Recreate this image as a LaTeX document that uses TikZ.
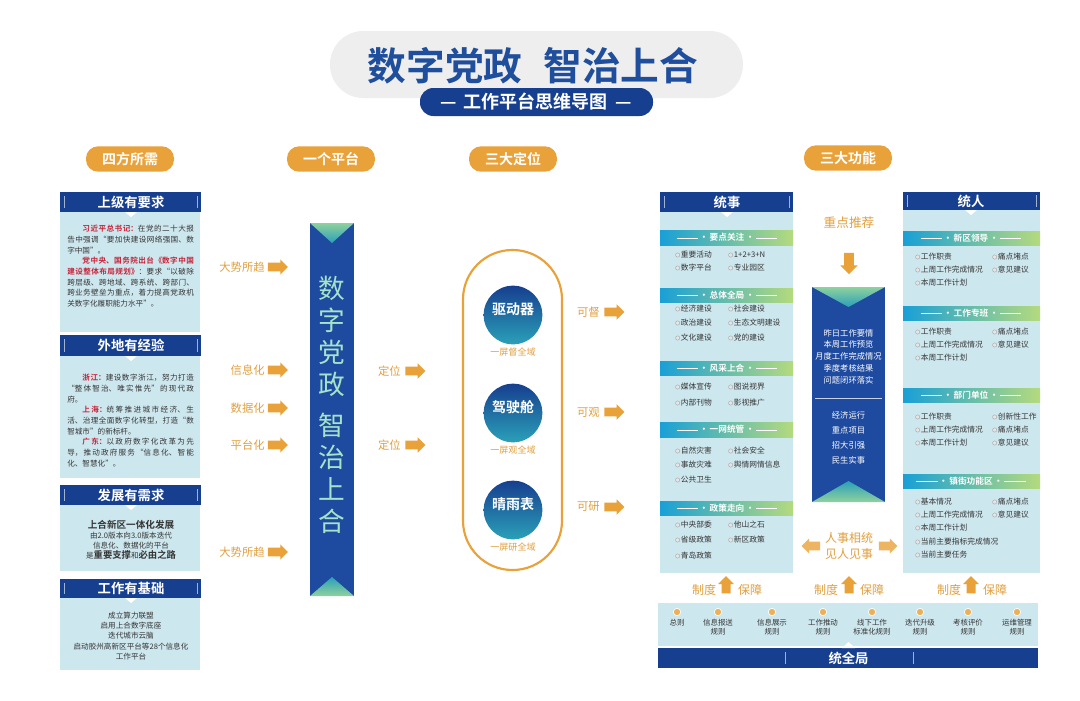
\documentclass[tikz,border=0pt]{standalone}
\usepackage{fontspec}
\setmainfont{Noto Sans CJK SC}[BoldFont={Noto Sans CJK SC Bold}]
\XeTeXlinebreaklocale "zh"
\XeTeXlinebreakskip = 0pt plus 1pt
\usepackage{tikz}
\usetikzlibrary{shapes.arrows}
\usetikzlibrary{positioning}

\definecolor{navy}{HTML}{173F8F}
\definecolor{titleblue}{HTML}{1F4E9C}
\definecolor{orng}{HTML}{E9A23A}
\definecolor{orngtxt}{HTML}{E0A040}
\definecolor{paleblue}{HTML}{CDE7EE}
\definecolor{bandblue}{HTML}{19A0D6}
\definecolor{bandgreen}{HTML}{B5DA7E}
\definecolor{barblue}{HTML}{1E4AA0}
\definecolor{bartext}{HTML}{A6E3C9}
\definecolor{redtxt}{HTML}{C7243A}
\definecolor{txt}{HTML}{353535}
\definecolor{titlegray}{HTML}{EEEEEF}
\definecolor{vgreen}{HTML}{8FD19E}
\definecolor{vteal}{HTML}{2AA0B8}

\newcommand\fsz[2]{\fontsize{#1}{#2}\selectfont}
\newcommand\bandlbl[1]{\rule[1.8pt]{16pt}{0.35pt}\,·\,#1\,·\,\rule[1.8pt]{16pt}{0.35pt}}

\begin{document}
\begin{tikzpicture}[x=0.75pt,y=-0.75pt,line width=0.4pt,
    pill/.style={fill=orng,rounded corners=9pt,text=white,font=\bfseries\fsz{10.5}{12},minimum height=19pt,minimum width=66pt,inner sep=0pt},
    hdtxt/.style={text=white,font=\bfseries\fsz{10}{12},inner sep=0pt},
    bandtxt/.style={text=white,font=\bfseries\fsz{6.5}{8},inner sep=0pt},
    para/.style={text=txt,font=\fsz{5.7}{8},text width=95pt,align=justify,inner sep=0pt,anchor=north west},
    cpara/.style={text=txt,font=\fsz{5.7}{7.6},align=center,inner sep=0pt,anchor=north},
    itm/.style={anchor=west,text=txt,font=\fsz{5.8}{7},inner sep=0.5pt,label distance=1.5pt,label={[dotsty]left:{}}},
    dotsty/.style={circle,draw=gray!70,fill=gray!20,line width=0.3pt,inner sep=0pt,minimum size=3.2pt},
    lbl/.style={text=orngtxt,font=\fsz{8.5}{10},inner sep=0pt},
    fatarrow/.style={single arrow,fill=orng,inner sep=3pt,minimum height=15pt,minimum width=11pt,single arrow head extend=2.5pt,single arrow head indent=0pt},
    tick/.style={white!60!navy,line width=0.7pt},
    whtxt/.style={text=white,inner sep=0pt,align=center},
    disc/.style={circle,minimum size=44pt,inner sep=0pt,top color=navy,middle color=barblue,bottom color=vteal},
    rdot/.style={circle,fill=orng!85,draw=white,line width=0.5pt,minimum size=5.5pt,inner sep=0pt},
    rule/.style={text=txt,font=\fsz{5.6}{7},align=center,inner sep=0pt,anchor=north}]

    \useasboundingbox[fill=white] (0,0) rectangle (1080,700);

    % title
    \fill[titlegray,rounded corners=25pt] (330,31) rectangle (743,98);
    \node[text=titleblue,font=\bfseries\fsz{29}{32},inner sep=0pt] (title) at (533,66) {数字党政\hspace{0.55em}智治上合};
    \fill[navy,rounded corners=10pt] (420,88) rectangle (653,116);
    \node[text=white,font=\bfseries\fsz{13.5}{15},inner sep=0pt] (subtitle) at (536,102) {—\hspace{0.4em}工作平台思维导图\hspace{0.4em}—};

    \node[pill] (hd1) at (130,159) {四方所需};
    \node[pill] (hd2) at (331,159) {一个平台};
    \node[pill] (hd3) at (513,159) {三大定位};
    \node[pill] (hd4) at (848,158) {三大功能};

    % left column
    \fill[paleblue] (60,212) rectangle (200,332);
    \fill[navy] (60,192) rectangle (201,212);
    \draw[tick] (64,196) -- (64,208);
    \draw[tick] (197,196) -- (197,208);
    \fill[white] (125,212) -- (137,212) -- (131,217) -- cycle;
    \node[hdtxt] (p1) at (131,202) {上级有要求};
    \node[para] (b1) at (67,225) {\hspace*{2em}{\color{redtxt}\bfseries 习近平总书记：}在党的二十大报告中强调“要加快建设网络强国、数字中国”。\par
        \hspace*{2em}{\color{redtxt}\bfseries 党中央、国务院出台《数字中国建设整体布局规划》}：要求“以破除跨层级、跨地域、跨系统、跨部门、跨业务壁垒为重点，着力提高党政机关数字化履职能力水平”。};

    \fill[paleblue] (60,356) rectangle (200,478);
    \fill[navy] (60,335) rectangle (201,356);
    \draw[tick] (64,339) -- (64,352);
    \draw[tick] (197,339) -- (197,352);
    \fill[white] (125,356) -- (137,356) -- (131,361) -- cycle;
    \node[hdtxt] (p2) at (131,345) {外地有经验};
    \node[para] (b2) at (67,374) {\hspace*{2em}{\color{redtxt}\bfseries 浙江：}建设数字浙江，努力打造“整体智治、唯实惟先”的现代政府。\par
        \hspace*{2em}{\color{redtxt}\bfseries 上海：}统筹推进城市经济、生活、治理全面数字化转型，打造“数智城市”的新标杆。\par
        \hspace*{2em}{\color{redtxt}\bfseries 广东：}以政府数字化改革为先导，推动政府服务“信息化、智能化、智慧化”。};

    \fill[paleblue] (60,505) rectangle (200,571);
    \fill[navy] (60,485) rectangle (201,505);
    \draw[tick] (64,489) -- (64,501);
    \draw[tick] (197,489) -- (197,501);
    \fill[white] (125,505) -- (137,505) -- (131,510) -- cycle;
    \node[hdtxt] (p3) at (131,495) {发展有需求};
    \node[cpara] (b3) at (131,520) {{\bfseries\fsz{7.2}{9}上合新区一体化发展}\\由2.0版本向3.0版本迭代\\信息化、数据化的平台\\是{\bfseries\fsz{7}{8}重要支撑}和{\bfseries\fsz{7}{8}必由之路}};

    \fill[paleblue] (60,598) rectangle (200,670);
    \fill[navy] (60,579) rectangle (201,598);
    \draw[tick] (64,583) -- (64,594);
    \draw[tick] (197,583) -- (197,594);
    \fill[white] (125,598) -- (137,598) -- (131,603) -- cycle;
    \node[hdtxt] (p4) at (131,588) {工作有基础};
    \node[cpara] (b4) at (131,612) {成立算力联盟\\启用上合数字底座\\迭代城市云脑\\启动胶州高新区平台等28个信息化\\工作平台};

    % one platform
    \node[lbl,anchor=east] (l1) at (265,267) {大势所趋};
    \node[fatarrow,right=2pt of l1] (a1) {};
    \node[lbl,anchor=east] (l2) at (265,370) {信息化};
    \node[fatarrow,right=2pt of l2] (a2) {};
    \node[lbl,anchor=east] (l3) at (265,408) {数据化};
    \node[fatarrow,right=2pt of l3] (a3) {};
    \node[lbl,anchor=east] (l4) at (265,445) {平台化};
    \node[fatarrow,right=2pt of l4] (a4) {};
    \node[lbl,anchor=east] (l5) at (265,552) {大势所趋};
    \node[fatarrow,right=2pt of l5] (a5) {};

    \fill[barblue] (310,223) rectangle (354,596);
    \shade[top color=vgreen,bottom color=vteal] (310,223) -- (354,223) -- (332,243) -- cycle;
    \shade[top color=vteal,bottom color=vgreen] (310,596) -- (354,596) -- (332,577) -- cycle;
    \node[text=bartext,font=\fsz{20}{24},align=center,inner sep=0pt] (bar1) at (332,336) {数\\字\\党\\政};
    \node[text=bartext,font=\fsz{20}{24},align=center,inner sep=0pt] (bar2) at (332,473) {智\\治\\上\\合};

    \node[lbl,anchor=east] (l6) at (401,371) {定位};
    \node[fatarrow,right=3pt of l6] (a6) {};
    \node[lbl,anchor=east] (l7) at (401,445) {定位};
    \node[fatarrow,right=3pt of l7] (a7) {};

    % three positions
    \draw[orng,line width=1.6pt,rounded corners=37pt] (463,250) rectangle (562,570);
    \node[disc] (c1) at (513,315) {};
    \node[whtxt,font=\bfseries\fsz{10.5}{12}] (c1t) at (513,309) {驱动器};
    \node[lbl,font=\fsz{6.8}{8}] (c1s) at (513,352) {一屏督全域};
    \node[disc] (c2) at (513,413) {};
    \node[whtxt,font=\bfseries\fsz{10.5}{12}] (c2t) at (513,407) {驾驶舱};
    \node[lbl,font=\fsz{6.8}{8}] (c2s) at (513,450) {一屏观全域};
    \node[disc] (c3) at (513,510) {};
    \node[whtxt,font=\bfseries\fsz{10.5}{12}] (c3t) at (513,504) {晴雨表};
    \node[lbl,font=\fsz{6.8}{8}] (c3s) at (513,547) {一屏研全域};

    \node[lbl,anchor=east] (l8) at (600,312) {可督};
    \node[fatarrow,right=3pt of l8] (a8) {};
    \node[lbl,anchor=east] (l9) at (600,412) {可观};
    \node[fatarrow,right=3pt of l9] (a9) {};
    \node[lbl,anchor=east] (l10) at (600,507) {可研};
    \node[fatarrow,right=3pt of l10] (a10) {};

    % tongshi
    \fill[paleblue] (660,212) rectangle (793,573);
    \fill[navy] (660,192) rectangle (793,212);
    \draw[tick] (664,196) -- (664,208);
    \draw[tick] (789,196) -- (789,208);
    \fill[white] (721,212) -- (733,212) -- (727,217) -- cycle;
    \node[hdtxt] (ts) at (727,202) {统事};

    \shade[left color=bandblue,right color=bandgreen] (660,230) rectangle (793,245);
    \node[bandtxt] (ts1) at (727,237.5) {\bandlbl{要点关注}};
    \node[itm] (ts1a) at (680,255) {重要活动};
    \node[itm] (ts1b) at (733,255) {1+2+3+N};
    \node[itm] (ts1c) at (680,268) {数字平台};
    \node[itm] (ts1d) at (733,268) {专业园区};

    \shade[left color=bandblue,right color=bandgreen] (660,288) rectangle (793,302);
    \node[bandtxt] (ts2) at (727,295) {\bandlbl{总体全局}};
    \node[itm] (ts2a) at (680,309) {经济建设};
    \node[itm] (ts2b) at (733,309) {社会建设};
    \node[itm] (ts2c) at (680,323) {政治建设};
    \node[itm] (ts2d) at (733,323) {生态文明建设};
    \node[itm] (ts2e) at (680,338) {文化建设};
    \node[itm] (ts2f) at (733,338) {党的建设};

    \shade[left color=bandblue,right color=bandgreen] (660,361) rectangle (793,375);
    \node[bandtxt] (ts3) at (727,368) {\bandlbl{风采上合}};
    \node[itm] (ts3a) at (680,387) {媒体宣传};
    \node[itm] (ts3b) at (733,387) {图说视界};
    \node[itm] (ts3c) at (680,403) {内部刊物};
    \node[itm] (ts3d) at (733,403) {影视推广};

    \shade[left color=bandblue,right color=bandgreen] (660,422) rectangle (793,437);
    \node[bandtxt] (ts4) at (727,429.5) {\bandlbl{一网统管}};
    \node[itm] (ts4a) at (680,451) {自然灾害};
    \node[itm] (ts4b) at (733,451) {社会安全};
    \node[itm] (ts4c) at (680,465) {事故灾难};
    \node[itm] (ts4d) at (733,465) {舆情网情信息};
    \node[itm] (ts4e) at (680,480) {公共卫生};

    \shade[left color=bandblue,right color=bandgreen] (660,501) rectangle (793,515);
    \node[bandtxt] (ts5) at (727,508) {\bandlbl{政策走向}};
    \node[itm] (ts5a) at (680,525) {中央部委};
    \node[itm] (ts5b) at (733,525) {他山之石};
    \node[itm] (ts5c) at (680,540) {省级政策};
    \node[itm] (ts5d) at (733,540) {新区政策};
    \node[itm] (ts5e) at (680,556) {青岛政策};

    % tongren
    \fill[paleblue] (903,210) rectangle (1040,573);
    \fill[navy] (903,192) rectangle (1040,210);
    \draw[tick] (907,195) -- (907,207);
    \draw[tick] (1036,195) -- (1036,207);
    \fill[white] (965,210) -- (977,210) -- (971,215) -- cycle;
    \node[hdtxt] (tr) at (971,201) {统人};

    \shade[left color=bandblue,right color=bandgreen] (903,231) rectangle (1040,245);
    \node[bandtxt] (tr1) at (971,238) {\bandlbl{新区领导}};
    \node[itm] (tr1a) at (920,257) {工作职责};
    \node[itm] (tr1b) at (997,257) {痛点堵点};
    \node[itm] (tr1c) at (920,270) {上周工作完成情况};
    \node[itm] (tr1d) at (997,270) {意见建议};
    \node[itm] (tr1e) at (920,283) {本周工作计划};

    \shade[left color=bandblue,right color=bandgreen] (903,306) rectangle (1040,320);
    \node[bandtxt] (tr2) at (971,313) {\bandlbl{工作专班}};
    \node[itm] (tr2a) at (920,332) {工作职责};
    \node[itm] (tr2b) at (997,332) {痛点堵点};
    \node[itm] (tr2c) at (920,345) {上周工作完成情况};
    \node[itm] (tr2d) at (997,345) {意见建议};
    \node[itm] (tr2e) at (920,358) {本周工作计划};

    \shade[left color=bandblue,right color=bandgreen] (903,388) rectangle (1040,402);
    \node[bandtxt] (tr3) at (971,395) {\bandlbl{部门单位}};
    \node[itm] (tr3a) at (920,417) {工作职责};
    \node[itm] (tr3b) at (997,417) {创新性工作};
    \node[itm] (tr3c) at (920,430) {上周工作完成情况};
    \node[itm] (tr3d) at (997,430) {痛点堵点};
    \node[itm] (tr3e) at (920,443) {本周工作计划};
    \node[itm] (tr3f) at (997,443) {意见建议};

    \shade[left color=bandblue,right color=bandgreen] (903,474) rectangle (1040,488);
    \node[bandtxt] (tr4) at (971,481) {\bandlbl{镇街功能区}};
    \node[itm] (tr4a) at (920,502) {基本情况};
    \node[itm] (tr4b) at (997,502) {痛点堵点};
    \node[itm] (tr4c) at (920,515) {上周工作完成情况};
    \node[itm] (tr4d) at (997,515) {意见建议};
    \node[itm] (tr4e) at (920,528) {本周工作计划};
    \node[itm] (tr4f) at (920,542) {当前主要指标完成情况};
    \node[itm] (tr4g) at (920,555) {当前主要任务};

    % middle strip
    \node[lbl,font=\fsz{9.5}{11}] (push) at (849,223) {重点推荐};
    \node[fatarrow,shape border rotate=270,minimum height=16pt,minimum width=13pt] (apush) at (849,261) {};
    \fill[barblue] (812,287) rectangle (885,502);
    \shade[top color=vgreen,bottom color=vteal] (812,287) -- (885,287) -- (848.5,307) -- cycle;
    \shade[top color=vteal,bottom color=vgreen] (812,502) -- (885,502) -- (848.5,481) -- cycle;
    \node[whtxt,font=\fsz{6.2}{8.8}] (m1) at (848.5,356.5) {昨日工作要情\\本周工作预览\\月度工作完成情况\\季度考核结果\\问题闭环落实};
    \draw[white!75!barblue] (815,398) -- (882,398);
    \node[whtxt,font=\fsz{6.2}{11.2}] (m2) at (848.5,437.5) {经济运行\\重点项目\\招大引强\\民生实事};

    \node[lbl,font=\fsz{9}{12.5},align=center] (rs) at (849,546) {人事相统\\见人见事};
    \node[fatarrow,shape border rotate=180,fill=orng!80,minimum height=14pt,minimum width=10pt] (rsl) at (813,546) {};
    \node[fatarrow,fill=orng!80,minimum height=14pt,minimum width=10pt] (rsr) at (886,546) {};

    \node[lbl,font=\fsz{9}{10}] (z1) at (704,590) {制度};
    \node[fatarrow,shape border rotate=90,minimum height=13pt,minimum width=12pt] (u1) at (726,587) {};
    \node[lbl,font=\fsz{9}{10}] (g1) at (750,590) {保障};
    \node[lbl,font=\fsz{9}{10}] (z2) at (826,590) {制度};
    \node[fatarrow,shape border rotate=90,minimum height=13pt,minimum width=12pt] (u2) at (849,587) {};
    \node[lbl,font=\fsz{9}{10}] (g2) at (872,590) {保障};
    \node[lbl,font=\fsz{9}{10}] (z3) at (949,590) {制度};
    \node[fatarrow,shape border rotate=90,minimum height=13pt,minimum width=12pt] (u3) at (971,587) {};
    \node[lbl,font=\fsz{9}{10}] (g3) at (995,590) {保障};

    % bottom rules
    \fill[paleblue] (658,603) rectangle (1038,646);
    \node[rdot] (d1) at (677,612) {};
    \node[rule] (r1) at (677,619) {总则};
    \node[rdot] (d2) at (718,612) {};
    \node[rule] (r2) at (718,619) {信息报送\\规则};
    \node[rdot] (d3) at (772,612) {};
    \node[rule] (r3) at (772,619) {信息展示\\规则};
    \node[rdot] (d4) at (823,612) {};
    \node[rule] (r4) at (823,619) {工作推动\\规则};
    \node[rdot] (d5) at (872,612) {};
    \node[rule] (r5) at (872,619) {线下工作\\标准化规则};
    \node[rdot] (d6) at (920,612) {};
    \node[rule] (r6) at (920,619) {迭代升级\\规则};
    \node[rdot] (d7) at (968,612) {};
    \node[rule] (r7) at (968,619) {考核评价\\规则};
    \node[rdot] (d8) at (1017,612) {};
    \node[rule] (r8) at (1017,619) {运维管理\\规则};

    \fill[navy] (658,648) rectangle (1038,668);
    \fill[white] (842,648) -- (855,648) -- (848.5,642) -- cycle;
    \draw[tick] (785,652) -- (785,664);
    \draw[tick] (913,652) -- (913,664);
    \node[hdtxt] (tq) at (848.5,658) {统全局};
\end{tikzpicture}
\end{document}
